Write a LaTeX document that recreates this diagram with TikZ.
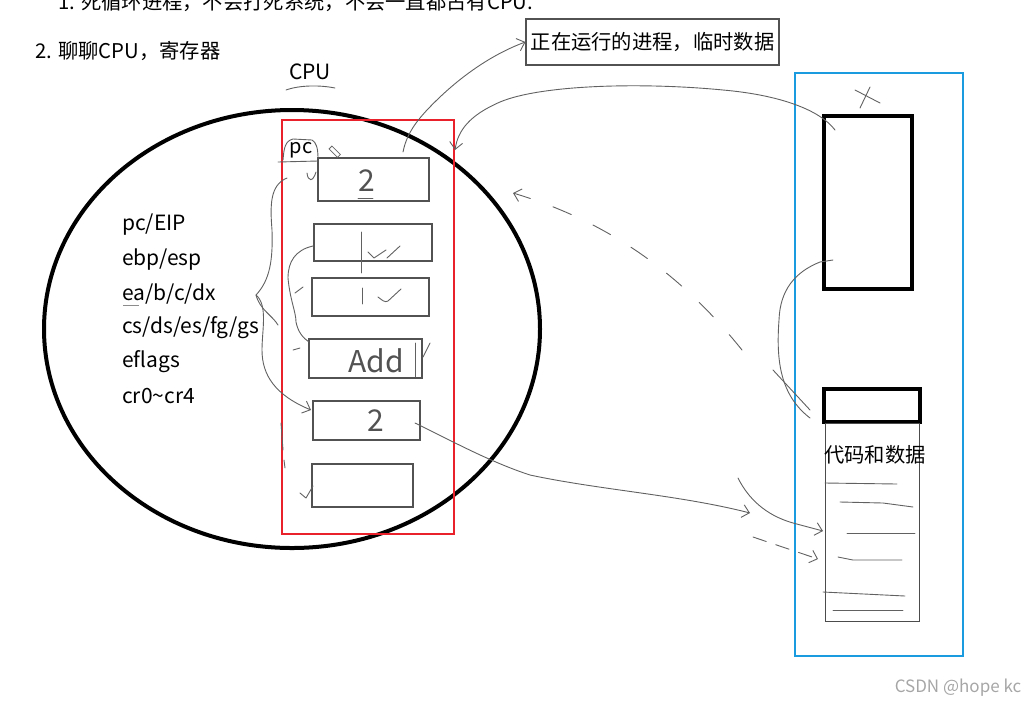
\documentclass[tikz,border=0pt]{standalone}
\usepackage{fontspec}
\setmainfont{Noto Sans CJK SC}
\usetikzlibrary{arrows.meta}
\definecolor{redbox}{HTML}{E8212B}
\definecolor{bluebox}{HTML}{1A9BE0}
\begin{document}
\begin{tikzpicture}[x=1pt,y=-1pt,
  every node/.style={inner sep=0pt},
  regbox/.style={draw=black!68, line width=1.3pt},
  pen/.style={draw=black!62, line width=0.9pt, line cap=round, line join=round},
  tipb/.style={-{Straight Barb[length=7pt,width=13pt]}},
  lbl/.style={anchor=west, font=\fontsize{21}{23}\selectfont},
  cjk/.style={font=\fontsize{20.3}{22}\selectfont},
  hand/.style={text=black!68, font=\fontsize{30}{30}\selectfont}]
\useasboundingbox (0,0) rectangle (1035,705);
\begin{scope}
\clip (0,0) rectangle (1035,705);
\node[anchor=west, cjk] (topline) at (58,2) {1. 死循环进程，不会打死系统，不会一直都占有CPU.};
\end{scope}

% titles
\node[anchor=west, cjk] (title) at (35,51) {2. 聊聊CPU，寄存器};
\node[font=\fontsize{21}{23}\selectfont] (cpu) at (310,72) {CPU};
\draw[pen] (286,90) .. controls (300,85) and (320,85) .. (335,88);

% CPU circle
\draw[line width=4pt] (292,329) ellipse [x radius=248pt, y radius=219pt];

% register names
\node[lbl] (l1) at (122,225) {pc/EIP};
\node[lbl] (l2) at (122,260) {ebp/esp};
\node[lbl] (l3) at (122,294) {ea/b/c/dx};
\node[lbl] (l4) at (122,328) {cs/ds/es/fg/gs};
\node[lbl] (l5) at (122,362) {eflags};
\node[lbl] (l6) at (122,396) {cr0\textasciitilde cr4};
\draw[black!45, line width=0.8pt] (123,305) -- (139,305);

% red frame
\draw[redbox, line width=2pt] (282,120) rectangle (454,534);

% register boxes
\node[regbox, minimum width=111pt, minimum height=43pt] (b1) at (373.5,179.5) {};
\node[regbox, minimum width=118pt, minimum height=37pt] (b2) at (373,242.5) {};
\node[regbox, minimum width=117pt, minimum height=38pt] (b3) at (370.5,297) {};
\node[regbox, minimum width=113pt, minimum height=39pt] (b4) at (365.5,358.5) {};
\node[regbox, minimum width=107pt, minimum height=39pt] (b5) at (366.5,420.5) {};
\node[regbox, minimum width=101pt, minimum height=43pt] (b6) at (362.5,485.5) {};

% pc tab
\node[font=\fontsize{20}{22}\selectfont] (pc) at (301,150) {pc};
\draw[pen] (278,162) -- (318,161);
\draw[pen] (283,160) .. controls (284,148) and (285,141) .. (293,139) -- (312,140) .. controls (316,142) and (318,148) .. (318,158);
\draw[black!60, line width=0.8pt, rotate around={-45:(334,151)}] (329,149) rectangle (341,153);

% handwriting in boxes
\node[hand] (h1) at (367,181) {2};
\draw[pen] (358,198) -- (373,198);
\draw[pen] (361,232) -- (361,273);
\draw[pen] (368,252) -- (374,258) -- (386,250) (387,258) -- (400,246);
\draw[pen] (362,288) -- (362,304);
\draw[pen] (378,297) .. controls (382,300) and (385,303) .. (388,301) -- (401,289);
\node[hand] (h4) at (376,361) {Add};
\draw[pen] (415,343) -- (415,377);
\draw[pen] (423,357) -- (430,343);
\node[hand] (h5) at (376,421) {2};
\draw[pen] (307,173) .. controls (308,182) and (313,182) .. (316,172);
\draw[pen] (300,493) -- (306,498) -- (313,486);

% left handwritten connectors
\coordinate (s1) at (287,178);
\coordinate (e1) at (311,410);
\draw[pen, tipb] (s1) .. controls (270,185) and (270,205) .. (272,230)
  .. controls (273,260) and (270,280) .. (256,295)
  .. controls (268,305) and (262,330) .. (262,350)
  .. controls (262,375) and (275,395) .. (e1);
\draw[pen] (256,295) .. controls (260,310) and (272,315) .. (278,325);
\coordinate (s2) at (313,246);
\coordinate (e2) at (309,342);
\draw[pen] (s2) .. controls (295,250) and (288,262) .. (288,278)
  .. controls (290,300) and (296,312) .. (296,322)
  .. controls (298,332) and (303,338) .. (e2);
\draw[pen] (295,293) -- (303,287);
\draw[pen] (293,350) -- (300,348);
\draw[pen] (281,423) -- (283,450);
\draw[pen] (284,460) -- (285,468);

% note box
\node[draw=black!68, line width=1.2pt, cjk, minimum width=253pt, minimum height=46pt] (note) at (652.5,42) {正在运行的进程，临时数据};
\coordinate (s3) at (403,152);
\draw[pen, tipb] (s3) .. controls (407,132) and (418,118) .. (440,97)
  .. controls (460,78) and (490,55) .. (note.west);

% memory frame
\draw[bluebox, line width=2pt] (795,73) rectangle (963,656);
\node[draw=black, line width=4pt, minimum width=88pt, minimum height=173pt] (m1) at (868,202.5) {};
\draw[pen] (855,90) -- (880,103) (870,87) -- (860,108);
\node[draw=black, line width=4pt, minimum width=96pt, minimum height=33pt] (m2) at (872,405.5) {};
\draw[black!70, line width=1pt] (825,423) rectangle (919,621);
\node[cjk] (code) at (875,455) {代码和数据};
\draw[pen] (825,483) -- (897,484);
\draw[pen] (840,502) -- (883,503) -- (913,507);
\draw[pen] (847,533) -- (915,533);
\draw[pen] (838,557) -- (853,560) -- (902,560);
\draw[pen] (823,592) -- (905,596);
\draw[pen] (833,610) -- (903,610);

% arc from memory to registers
\coordinate (s4) at (835,130);
\coordinate (e4) at (455,150);
\draw[pen, tipb] (s4) .. controls (820,110) and (780,95) .. (723,90)
  .. controls (640,82) and (540,85) .. (500,102)
  .. controls (470,115) and (458,130) .. (e4);

% dashed arc
\coordinate (s5) at (742,350);
\coordinate (e5) at (513,193);
\draw[pen, dash pattern=on 20pt off 24pt, tipb] (s5) .. controls (690,285) and (620,225) .. (e5);

% curve between memory blocks
\coordinate (s6) at (833,260);
\coordinate (e6) at (810,418);
\draw[pen] (s6) -- (820,262) .. controls (795,272) and (780,290) .. (779,320)
  .. controls (776,360) and (780,395) .. (e6);
\draw[pen] (773,370) -- (810,410);

% box 5 to code area
\coordinate (s7) at (415,423);
\coordinate (e7) at (750,513);
\draw[pen, tipb] (s7) .. controls (450,440) and (490,462) .. (530,475)
  .. controls (600,490) and (680,495) .. (e7);
\coordinate (s8) at (738,478);
\coordinate (e8) at (823,531);
\draw[pen, tipb] (s8) .. controls (748,498) and (765,515) .. (793,523) -- (e8);
\coordinate (s9) at (753,537);
\coordinate (e9) at (818,559);
\draw[pen, dash pattern=on 14pt off 10pt, tipb] (s9) -- (e9);

% watermark
\node[text=black!35, font=\fontsize{17}{18}\selectfont] (wm) at (958,688) {CSDN @hope kc};
\end{tikzpicture}
\end{document}
